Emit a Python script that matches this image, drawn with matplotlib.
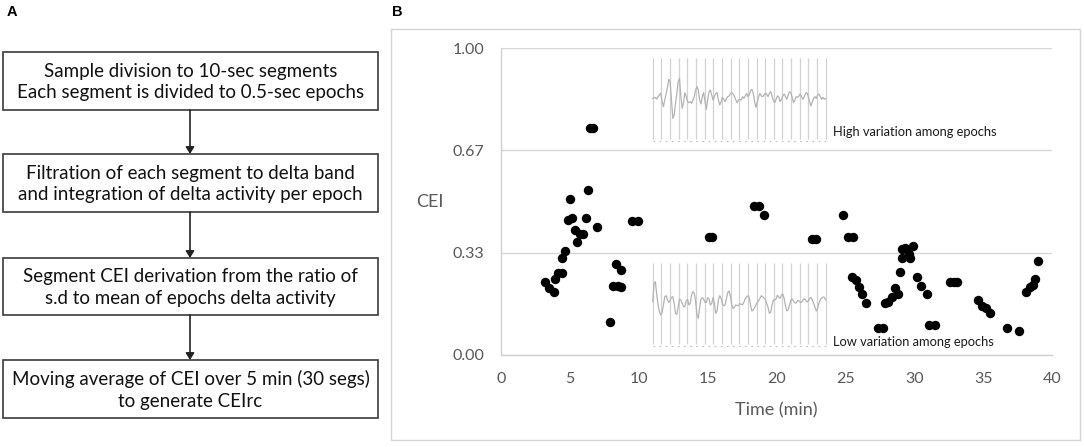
import numpy as np
import matplotlib
matplotlib.use("Agg")
import matplotlib.pyplot as plt
from matplotlib.patches import Rectangle, FancyArrowPatch

# ---------------- data ----------------
flow_steps = [
    "Sample division to 10-sec segments\nEach segment is divided to 0.5-sec epochs",
    "Filtration of each segment to delta band\nand integration of delta activity per epoch",
    "Segment CEI derivation from the ratio of\ns.d to mean of epochs delta activity",
    "Moving average of CEI over 5 min (30 segs)\nto generate CEIrc",
]

time_min = [3.19, 3.52, 3.85, 3.95, 4.16, 4.40, 4.45, 4.64, 4.85, 5.00, 5.13, 5.37,
            5.49, 5.73, 5.97, 6.17, 6.29, 6.45, 6.70, 6.94, 7.91, 8.15, 8.35, 8.51,
            8.68, 8.68, 9.48, 9.96, 15.1, 15.35, 18.35, 18.75, 19.1, 22.6, 22.9,
            24.85, 25.2, 25.55, 25.45, 25.8, 26.0, 26.2, 26.5, 27.4, 27.7, 27.9,
            28.1, 28.35, 28.6, 28.8, 28.96, 29.1, 29.1, 29.35, 29.6, 29.7, 29.9,
            30.2, 30.5, 30.9, 31.1, 31.5, 32.6, 32.9, 33.1, 34.6, 34.9, 35.2, 35.5,
            36.7, 37.6, 38.1, 38.4, 38.6, 38.8, 39.0]
cei = [0.238, 0.217, 0.206, 0.248, 0.268, 0.268, 0.317, 0.340, 0.440, 0.507, 0.447, 0.407,
       0.367, 0.394, 0.394, 0.447, 0.537, 0.738, 0.738, 0.416, 0.108, 0.225, 0.296, 0.225,
       0.277, 0.222, 0.437, 0.437, 0.385, 0.385, 0.485, 0.485, 0.455, 0.377, 0.377,
       0.456, 0.385, 0.385, 0.255, 0.244, 0.223, 0.200, 0.168, 0.087, 0.087, 0.168,
       0.174, 0.188, 0.217, 0.199, 0.269, 0.315, 0.344, 0.347, 0.330, 0.315, 0.355,
       0.255, 0.225, 0.199, 0.098, 0.098, 0.239, 0.239, 0.239, 0.179, 0.160, 0.152, 0.136,
       0.087, 0.078, 0.206, 0.223, 0.228, 0.246, 0.307]

y_ticks = [0.0, 1/3, 2/3, 1.0]
y_tick_labels = ["0.00", "0.33", "0.67", "1.00"]
x_ticks = [0, 5, 10, 15, 20, 25, 30, 35, 40]

# sample EEG traces (10 s, 20 epochs of 0.5 s), arbitrary units
high_var_trace = [0, 2, 2, -2, 5, 10, 15, -10, -25, -5, 13, 33, 57, 50, -5, -60, -50, -15, 15, 50,
                  60, 5, -30, -13, 17, 5, -10, -13, -10, -15, -5, 5, 25, 35, 25, -5, -17, 5, 17, -10,
                  -33, -3, 20, 25, 10, -5, 5, 15, 17, -5, -20, -10, 3, -3, -10, 0, 5, 7, 15, 17,
                  13, 5, -5, -13, -5, -3, -5, 5, 0, 7, 15, 5, 10, 23, 27, 15, -10, -27, -10, 5,
                  15, 7, 5, 10, 15, 13, 5, 15, 20, 7, -7, -13, -3, 7, 5, -10, -3, 7, 13, 5,
                  -3, 10, 20, 17, 3, -13, -5, 5, 3, 7, 13, 5, -3, 5, 15, 17, 5, -10, -23, -10,
                  0, 5, 0, 10, 13, 5, -3, 3, -3, 0]
low_var_trace = [5, 60, 65, 27, -5, -25, -35, -27, -5, 20, 23, 10, 3, 9, 18, 20, 0, -30, -33, -10,
                 12, 10, 0, -10, -10, 7, 12, -5, 0, 25, 35, 30, 5, -35, -45, -13, 13, 17, 13, 3,
                 3, 17, 13, -5, 0, 17, 0, -30, -23, 10, 23, 15, -3, -7, -4, 15, 33, 37, 20, -5,
                 -16, -11, -5, -7, -7, -1, -3, -4, 3, 14, 19, 23, 17, -7, -23, -20, -12, -5, 3, 8,
                 15, 23, 20, 16, 11, 0, -12, -30, -27, -5, 10, 10, 13, 24, 19, 15, 25, 28, 15, -7,
                 -23, -20, -5, 10, 13, 7, 1, 1, 8, 8, 3, 3, 10, 14, 10, 4, 7, 15, 18, 10,
                 0, -12, -23, -15, 2, 11, 16, 19, 18, 10]
epoch_bounds = np.arange(0, 10.01, 0.5)

# ---------------- figure ----------------
W, H = 1084, 447
fig = plt.figure(figsize=(W / 100, H / 100), dpi=100)
fig.patch.set_facecolor("white")

box_font = "Lato"
tick_color = "#595959"

def px_rect(x0, y0, x1, y1):
    return [x0 / W, 1 - y1 / H, (x1 - x0) / W, (y1 - y0) / H]

# overlay axes for panel A and the panel B frame
ov = fig.add_axes([0, 0, 1, 1])
ov.set_xlim(0, W)
ov.set_ylim(H, 0)
ov.axis("off")

ov.text(7, 12, "A", fontsize=10.5, fontweight="bold", family="Liberation Sans",
        va="center", ha="left")
ov.text(392, 12, "B", fontsize=10.5, fontweight="bold", family="Liberation Sans",
        va="center", ha="left")

boxes = [(52, 110), (154, 212), (258, 315), (360, 418)]
bx0, bx1 = 3, 378
for (t, b), label in zip(boxes, flow_steps):
    ov.add_patch(Rectangle((bx0, t), bx1 - bx0, b - t, facecolor="white",
                           edgecolor="#3a3a3a", lw=1.2))
    ov.text((bx0 + bx1) / 2, (t + b) / 2 + 1, label, ha="center", va="center",
            fontsize=13.5, family=box_font, color="#111111", linespacing=1.3)
for (t1, b1), (t2, b2) in zip(boxes[:-1], boxes[1:]):
    ov.add_patch(FancyArrowPatch((190, b1), (190, t2), arrowstyle="-|>,head_length=4,head_width=2.5",
                                 color="#222222", lw=1.2, shrinkA=0, shrinkB=0))

ov.add_patch(Rectangle((391, 29), 1080 - 391, 440 - 29, facecolor="none",
                       edgecolor="#d4d4d4", lw=1.0))

# ---------------- main scatter axes ----------------
ax = fig.add_axes(px_rect(501, 48, 1052, 355))
ax.set_facecolor("none")
ax.set_xlim(0, 40)
ax.set_ylim(0, 1)
ax.set_yticks(y_ticks)
ax.set_yticklabels(y_tick_labels)
ax.set_xticks(x_ticks)
ax.tick_params(length=0, labelsize=11.5, labelcolor=tick_color, pad=12)
for lab in ax.get_xticklabels() + ax.get_yticklabels():
    lab.set_family(box_font)
ax.yaxis.grid(True, color="#d6d6d6", lw=1.0)
ax.set_axisbelow(True)
for s in ["top", "right"]:
    ax.spines[s].set_visible(False)
ax.spines["left"].set_color("#d0d0d0")
ax.spines["bottom"].set_color("#d0d0d0")
ax.spines["left"].set_linewidth(1.0)
ax.spines["bottom"].set_linewidth(1.0)

ax.scatter(time_min, cei, s=46, color="black", zorder=3, linewidths=0)

ax.set_xlabel("Time (min)", fontsize=13, family=box_font, color=tick_color, labelpad=12)
ax.set_ylabel("CEI", fontsize=13, family=box_font, color=tick_color, rotation=0,
              labelpad=0)
ax.yaxis.set_label_coords(-(501 - 430) / 551, (355 - 202) / 307)
ax.yaxis.label.set_ha("center")
ax.yaxis.label.set_va("center")

# ---------------- inset traces ----------------
def make_inset(y_top, y_bot, trace, label, label_y):
    # epoch lines span 652.7..825.7 px for 0..10 s
    x_left, x_right = 622, 830
    sc = (825.7 - 652.7) / 10.0
    iax = fig.add_axes(px_rect(x_left, y_top, x_right, y_bot))
    iax.set_facecolor("white")
    iax.set_xlim(-(652.7 - x_left) / sc, 10 + (x_right - 825.7) / sc)
    iax.set_ylim(-143, 130)
    iax.axis("off")
    iax.patch.set_visible(True)
    iax.vlines(epoch_bounds, -122, 121, color="#d2d2d2", lw=0.9)
    t = np.linspace(0, 10, len(trace))
    iax.plot(t, trace, color="#b3b3b3", lw=0.9)
    iax.plot([0, 10], [-129, -129], color="#bdbdbd", lw=0.8, ls=(0, (1.5, 4.0)))
    ov.text(833, label_y, label, fontsize=9.3, family=box_font, color="#1a1a1a",
            ha="left", va="center")
    return iax

make_inset(55, 146, high_var_trace, "High variation among epochs", 132.5)
make_inset(260, 351, low_var_trace, "Low variation among epochs", 342.5)

fig.savefig("out.png", dpi=100, facecolor="white")
